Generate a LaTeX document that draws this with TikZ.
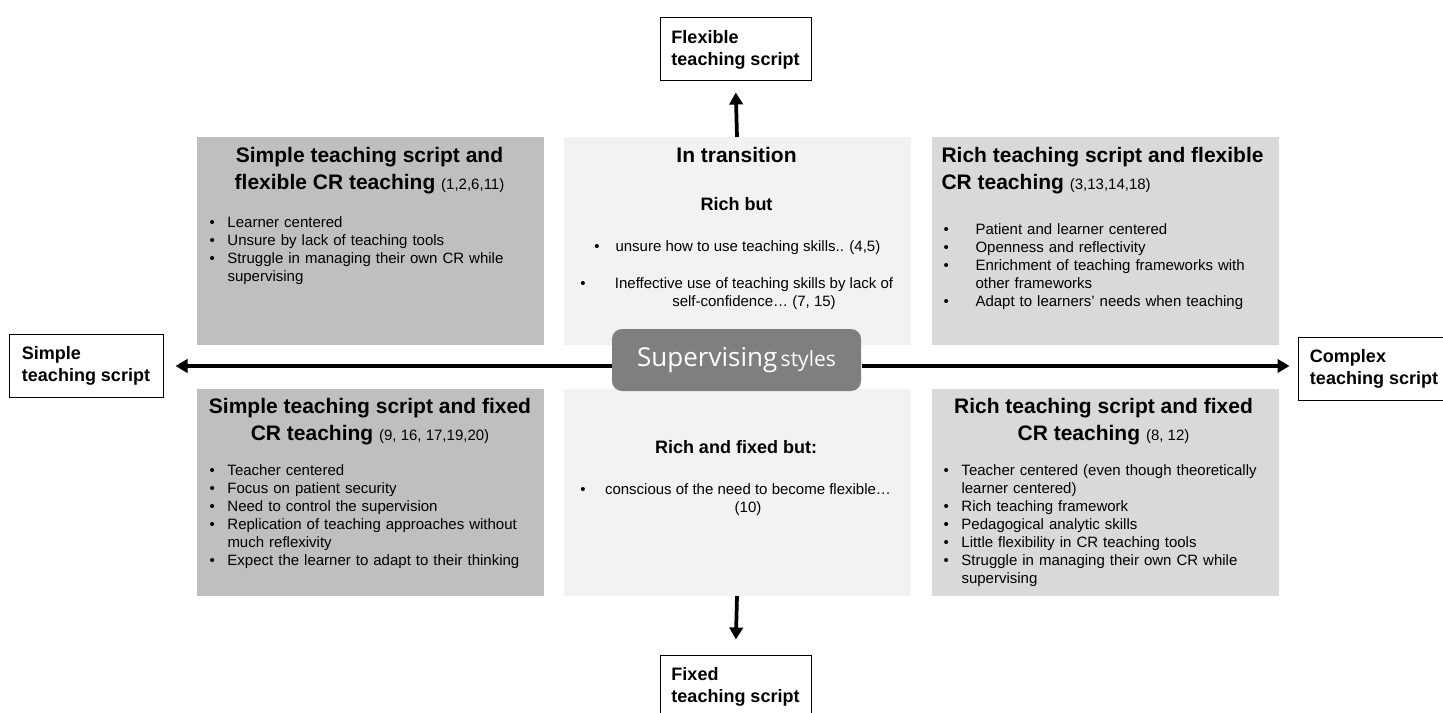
\documentclass[tikz,border=0pt]{standalone}
\usepackage{fontspec}
\setmainfont{Liberation Sans}
\newfontfamily\supfont{Open Sans}
\usetikzlibrary{arrows.meta}

\definecolor{darkquad}{HTML}{BFBFBF}
\definecolor{midquad}{HTML}{D9D9D9}
\definecolor{lightquad}{HTML}{F2F2F2}
\definecolor{supgray}{HTML}{7F7F7F}

\newcommand\ttlfont{\fontsize{15.75}{20.25}\selectfont\bfseries}
\newcommand\subfont{\fontsize{13.5}{16.5}\selectfont\bfseries}
\newcommand\bodyfont{\fontsize{11.25}{13.5}\selectfont}
\newcommand\numfont{\fontsize{11.25}{13.5}\selectfont\mdseries}
\newcommand\bul[2]{\par\noindent\hangindent=#1\hangafter=1\makebox[#1][l]{\textbullet}#2\par}

\tikzset{every picture/.style={line width=0.75pt}}
\tikzset{
  quad/.style={draw=none, minimum width=260.25pt, minimum height=155.25pt, inner sep=0pt, anchor=north west},
  ttl/.style={inner sep=0pt, align=center, font=\ttlfont},
  list/.style={anchor=north west, inner sep=0pt, text width=255pt, align=left, font=\bodyfont},
  scriptbox/.style={draw, line width=0.75pt, minimum width=113.25pt, minimum height=47.25pt, inner sep=0pt, align=left, font=\subfont},
  axis/.style={line width=3pt, -{Triangle[length=9pt,width=10pt]}},
}

\begin{document}
\begin{tikzpicture}[x=0.75pt,y=0.75pt,yscale=-1,xscale=1]
	\useasboundingbox (0,0) rectangle (1443,713);
	
	%Shape: Quadrants
	\draw (196,137) node [quad, fill=darkquad] (tl) {};
	\draw (563,137) node [quad, fill=lightquad] (tm) {};
	\draw (931,137) node [quad, fill=midquad] (tr) {};
	\draw (196,388) node [quad, fill=darkquad] (bl) {};
	\draw (563,388) node [quad, fill=lightquad] (bm) {};
	\draw (931,388) node [quad, fill=midquad] (br) {};
	
	%Shape: Script boxes
	\draw (735.5,49.5) node [scriptbox] (flex) {Flexible\\teaching script};
	\draw (735.5,686.5) node [scriptbox] (fixed) {Fixed\\teaching script};
	\draw (86,366) node [scriptbox, minimum width=115.5pt] (simple) {Simple\\teaching script};
	\draw (1374,369) node [scriptbox, minimum width=114pt] (cplx) {Complex\\teaching script};
	
	%Shape: Centre
	\draw (736.5,360) node [fill=supgray, rounded corners=7.5pt, minimum width=186.75pt, minimum height=46.5pt, inner sep=0pt, text=white, font=\supfont] (sup) {{\fontsize{19.5}{20}\selectfont Supervising} {\fontsize{15.75}{16}\selectfont styles}\hspace{9pt}};
	
	%Straight Lines: axes
	\draw [axis, shorten >=9pt] ([yshift=4.5pt]sup.west) -- (simple.east) ;
	\draw [axis, shorten >=6pt] ([yshift=4.5pt]sup.east) -- ([yshift=4.5pt]sup.east -| cplx.west) ;
	\draw [axis, line width=2.8pt, shorten >=8.25pt] (tm.north) -- (flex.south) ;
	\draw [axis, line width=2.8pt, shorten >=11.25pt] (bm.south) -- (fixed.north) ;
	
	% Text Node: top left
	\draw (369.5,147.2) node [ttl, anchor=north] (tlttl) {Simple teaching script and\\flexible CR teaching {\numfont(1,2,6,11)}};
	\draw (209,209.4) node [list] (tllist) {\bul{13.5pt}{Learner centered}\bul{13.5pt}{Unsure by lack of teaching tools}\bul{13.5pt}{Struggle in managing their own CR while\newline supervising}};
	
	% Text Node: top middle
	\draw (736.5,162.5) node [inner sep=0pt, anchor=base, font=\ttlfont] (tmttl) {In transition};
	\draw (736.5,210.5) node [inner sep=0pt, anchor=base, font=\subfont] (tmsub) {Rich but};
	\draw (597,251.5) node [inner sep=0pt, anchor=base, font=\bodyfont] (tmdota) {\textbullet};
	\draw (615,251.5) node [inner sep=0pt, anchor=base west, font=\bodyfont] (tmitema) {unsure how to use teaching skills.. (4,5)};
	\draw (583,288.5) node [inner sep=0pt, anchor=base, font=\bodyfont] (tmdotb) {\textbullet};
	\draw (754,277.4) node [inner sep=0pt, anchor=north, align=center, font=\bodyfont] (tmitemb) {Ineffective use of teaching skills by lack of\\self-confidence… (7, 15)};
	
	% Text Node: top right
	\draw (941,147.2) node [ttl, anchor=north west, align=left] (trttl) {Rich teaching script and flexible\\CR teaching {\numfont(3,13,14,18)}};
	\draw (943,216.4) node [list] (trlist) {\bul{24pt}{Patient and learner centered}\bul{24pt}{Openness and reflectivity}\bul{24pt}{Enrichment of teaching frameworks with\newline other frameworks}\bul{24pt}{Adapt to learners' needs when teaching}};
	
	% Text Node: bottom left
	\draw (370,397.5) node [ttl, anchor=north] (blttl) {Simple teaching script and fixed\\CR teaching {\numfont(9, 16, 17,19,20)}};
	\draw (209,457.4) node [list] (bllist) {\bul{13.5pt}{Teacher centered}\bul{13.5pt}{Focus on patient security}\bul{13.5pt}{Need to control the supervision}\bul{13.5pt}{Replication of teaching approaches without\newline much reflexivity}\bul{13.5pt}{Expect the learner to adapt to their thinking}};
	
	% Text Node: bottom middle
	\draw (736,453.4) node [inner sep=0pt, anchor=base, font=\subfont] (bmsub) {Rich and fixed but:};
	\draw (583,494.5) node [inner sep=0pt, anchor=base, font=\bodyfont] (bmdot) {\textbullet};
	\draw (748,483.5) node [inner sep=0pt, anchor=north, align=center, font=\bodyfont] (bmitem) {conscious of the need to become flexible…\\(10)};
	
	% Text Node: bottom right
	\draw (1103.5,397.5) node [ttl, anchor=north] (brttl) {Rich teaching script and fixed\\CR teaching {\numfont(8, 12)}};
	\draw (943,457.4) node [list] (brlist) {\bul{13.5pt}{Teacher centered (even though theoretically\newline learner centered)}\bul{13.5pt}{Rich teaching framework}\bul{13.5pt}{Pedagogical analytic skills}\bul{13.5pt}{Little flexibility in CR teaching tools}\bul{13.5pt}{Struggle in managing their own CR while\newline supervising}};
	
\end{tikzpicture}
\end{document}
